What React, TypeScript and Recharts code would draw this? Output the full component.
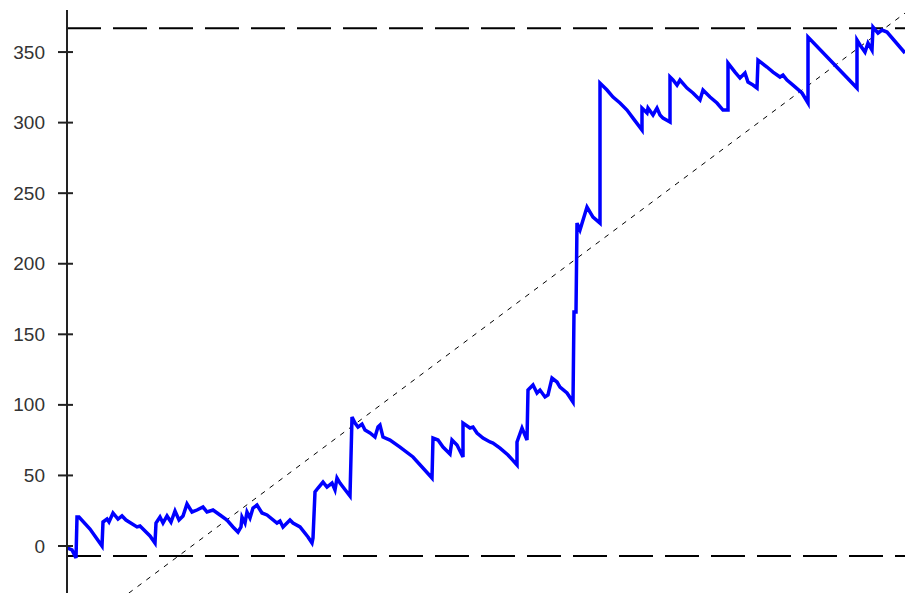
import React from "react";
import { LineChart, Line, XAxis, YAxis, ReferenceLine } from "recharts";

// Trade index (x) and cumulative equity (y)
const tradeIndex = [
  0, 5, 9, 10, 12, 23, 35, 36, 40, 42, 46, 51, 55, 59, 70, 73, 83, 88, 89, 93,
  96, 100, 104, 108, 112, 116, 120, 125, 130, 136, 140, 146, 153, 160, 166, 171, 174, 175, 178, 180,
  183, 186, 190, 195, 200, 210, 213, 216, 223, 226, 233, 241, 245, 246, 248, 251, 256, 260, 265, 268,
  270, 273, 276, 283, 285, 288, 291, 295, 298, 303, 308, 311, 313, 316, 323, 333, 346, 365, 366, 371,
  376, 383, 385, 390, 396, 396, 403, 406, 410, 416, 423, 426, 433, 441, 450, 450, 455, 460, 461, 466,
  470, 473, 478, 481, 485, 490, 493, 500, 506, 507, 509, 510, 513, 520, 526, 533, 533, 540, 546, 553,
  560, 566, 575, 575, 580, 581, 586, 590, 593, 596, 603, 603, 606, 610, 613, 620, 626, 633, 636, 643,
  650, 656, 661, 661, 668, 673, 678, 681, 686, 690, 691, 700, 706, 713, 716, 720, 726, 735, 741, 741,
  790, 790, 793, 798, 801, 805, 806, 811, 815, 820, 838,
];
const equity = [
  -1.4, -2.8, -8.5, 20.5, 20.5, 12.0, 0, 17.0, 19.1, 17.0, 23.4, 19.1, 21.3, 18.4, 13.5, 14.2, 7.1, 2.1, 16.3, 20.5,
  16.3, 21.3, 17.0, 24.8, 18.4, 21.3, 29.8, 24.1, 25.5, 27.6, 24.1, 25.5, 22.0, 18.4, 13.5, 9.9, 13.5, 20.5, 16.3, 24.1,
  19.8, 26.9, 29.0, 23.4, 22.0, 16.3, 17.7, 13.5, 18.4, 16.3, 13.5, 6.4, 2.1, 5.7, 38.3, 41.1, 45.3, 41.8, 44.6, 39.7,
  48.2, 44.6, 41.8, 35.4, 91.4, 87.1, 84.3, 86.4, 82.2, 80.1, 77.2, 84.3, 85.7, 77.2, 75.1, 70.1, 63.1, 48.2, 76.5, 75.1,
  70.1, 65.2, 75.1, 71.6, 63.1, 87.1, 83.6, 84.3, 80.1, 76.5, 73.7, 73.0, 69.4, 64.5, 57.4, 73.7, 83.6, 75.1, 110.5, 114.1,
  108.4, 110.5, 105.6, 107.0, 119.0, 116.2, 112.6, 108.4, 102.0, 165.8, 165.8, 228.8, 223.9, 240.2, 233.1, 228.8, 328.0, 323.1, 318.1, 313.9,
  308.9, 303.2, 294.7, 310.3, 306.8, 310.3, 305.4, 310.3, 305.4, 303.2, 300.4, 332.3, 330.2, 326.6, 330.2, 324.5, 321.0, 316.0, 323.1, 318.1,
  313.9, 308.9, 308.9, 342.2, 335.8, 331.6, 335.1, 328.7, 326.6, 324.5, 344.3, 339.4, 335.8, 332.3, 333.7, 330.2, 326.6, 321.0, 313.9, 360.6,
  324.5, 358.5, 355.0, 350.0, 356.4, 351.4, 367.7, 363.5, 365.6, 364.2, 349.3,
];

// Linear trend of the equity curve (start and end)
const trendIndex = [0, 838];
const trendValues = [-66.1, 377.6];

// Max / min equity levels (dashed)
const maxLevel = 366.8;
const minLevel = -7.1;

const yTicks = [0, 50, 100, 150, 200, 250, 300, 350];
const yDomain = [-33.3, 379.8];
const xDomain = [0, 838];

const equityData = tradeIndex.map((t, i) => ({ t, v: equity[i] }));
const trendData = trendIndex.map((t, i) => ({ t, v: trendValues[i] }));

const AxisTick = (props: any) => {
  const { x, y, payload } = props;
  return (
    <g>
      <line x1={x - 9} x2={x + 6} y1={y} y2={y} stroke="#222" strokeWidth={2} />
      <text
        x={x - 22}
        y={y}
        textAnchor="end"
        dominantBaseline="central"
        fontSize={19}
        fill="#333"
        fontFamily="'Liberation Sans', Arial, sans-serif"
      >
        {payload.value}
      </text>
    </g>
  );
};

export default function App() {
  return (
    <div
      style={{
        position: "absolute",
        left: 0,
        top: 0,
        width: 905,
        height: 593,
        overflow: "hidden",
        background: "#fff",
      }}
    >
      <LineChart width={905} height={593} margin={{ top: 10, right: 0, bottom: 0, left: 0 }}>
        <XAxis type="number" dataKey="t" domain={xDomain} hide allowDataOverflow />
        <YAxis
          type="number"
          domain={yDomain}
          ticks={yTicks}
          interval={0}
          width={67}
          allowDataOverflow
          axisLine={{ stroke: "#222", strokeWidth: 2 }}
          tickLine={false}
          tickSize={0}
          tickMargin={0}
          tick={<AxisTick />}
        />
        <ReferenceLine y={maxLevel} stroke="#000" strokeWidth={2} strokeDasharray="34 12" />
        <ReferenceLine y={minLevel} stroke="#000" strokeWidth={2} strokeDasharray="34 12" />
        <Line
          data={trendData}
          dataKey="v"
          type="linear"
          stroke="#000"
          strokeWidth={1}
          strokeDasharray="5 6"
          dot={false}
          activeDot={false}
          isAnimationActive={false}
        />
        <Line
          data={equityData}
          dataKey="v"
          type="linear"
          stroke="#0000ff"
          strokeWidth={3.5}
          dot={false}
          activeDot={false}
          isAnimationActive={false}
        />
      </LineChart>
    </div>
  );
}
